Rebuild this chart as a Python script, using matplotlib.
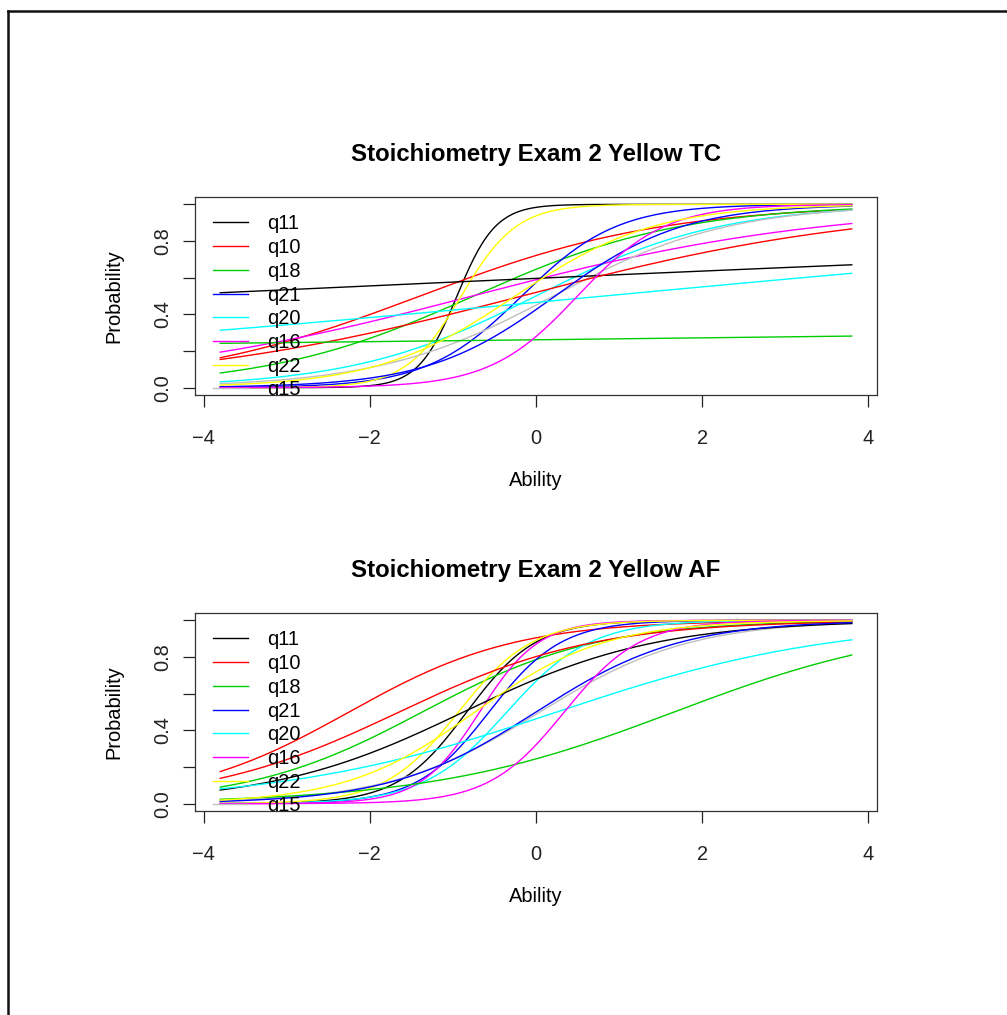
import numpy as np
import matplotlib
matplotlib.use("Agg")
import matplotlib.pyplot as plt
from matplotlib.lines import Line2D

plt.rcParams['font.family'] = ['Liberation Sans', 'DejaVu Sans']

# ---------------- data ----------------
titles = ["Stoichiometry Exam 2 Yellow TC", "Stoichiometry Exam 2 Yellow AF"]
legend_labels = ["q11", "q10", "q18", "q21", "q20", "q16", "q22", "q15"]
# R default palette (cycled over the items)
palette = ["#000000", "#FF0000", "#00CD00", "#0000FF",
           "#00FFFF", "#FF00FF", "#FFFF00", "#BEBEBE"]

# item parameters (slope a, intercept d; P = 1/(1+exp(-(a*theta+d))))
tc_slope = [4.3, 0.68, 0.80, 1.75, 0.90, 0.47, 3.0, 0.95,
            0.084, 0.47, 0.027, 1.30, 0.17, 1.90, 1.20]
tc_intercept = [4.09, 0.95, 0.60, 0.30, 0.00, 0.36, 2.70, -0.20,
                0.39, 0.08, -1.04, -0.30, -0.14, -0.95, 0.30]
af_slope = [2.4, 1.0, 0.95, 2.3, 2.0, 2.8, 2.25, 1.1,
            0.86, 0.85, 0.68, 1.15, 0.60, 2.2, 1.28]
af_intercept = [2.0, 2.25, 1.30, 1.30, 0.70, 1.90, 2.10, -0.05,
                0.75, 1.40, -1.13, 0.00, -0.15, -0.75, 0.94]

ability_min, ability_max = -3.8, 3.8
x_ticks = [-4, -2, 0, 2, 4]
x_ticklabels = ["\u22124", "\u22122", "0", "2", "4"]
y_ticks = [0.0, 0.2, 0.4, 0.6, 0.8, 1.0]
y_ticklabels = ["0.0", "", "0.4", "", "0.8", ""]

# ---------------- figure ----------------
W, H = 1007, 1015
fig = plt.figure(figsize=(W / 100, H / 100), dpi=100)

def ax_rect(left, top, right, bottom):
    return [left / W, 1 - bottom / H, (right - left) / W, (bottom - top) / H]

panels = [
    (ax_rect(195, 197, 877, 395), titles[0], tc_slope, tc_intercept),
    (ax_rect(195, 613, 877, 811), titles[1], af_slope, af_intercept),
]

theta = np.linspace(ability_min, ability_max, 300)
span = ability_max - ability_min
FS = 14.4

for rect, title, slopes, intercepts in panels:
    ax = fig.add_axes(rect)
    handles = []
    for i, (a, d) in enumerate(zip(slopes, intercepts)):
        p = 1.0 / (1.0 + np.exp(-(a * theta + d)))
        ln, = ax.plot(theta, p, color=palette[i % len(palette)], lw=1.0)
        handles.append(ln)
    ax.set_xlim(ability_min - 0.04 * span, ability_max + 0.04 * span)
    ax.set_ylim(-0.04, 1.04)
    ax.set_xticks(x_ticks)
    ax.set_xticklabels(x_ticklabels)
    ax.set_yticks(y_ticks)
    ax.set_yticklabels(y_ticklabels, rotation=90, va='center')
    ax.tick_params(axis='both', direction='out', length=8.4, width=0.9,
                   labelsize=FS, colors='#222222')
    ax.tick_params(axis='x', pad=16)
    ax.tick_params(axis='y', pad=8)
    for s in ax.spines.values():
        s.set_linewidth(0.9)
        s.set_color('#333333')
    ax.set_title(title, fontsize=17.3, fontweight='bold', pad=26)
    ax.set_xlabel("Ability", fontsize=FS)
    ax.xaxis.set_label_coords(0.5, -0.384)
    ax.set_ylabel("Probability", fontsize=FS)
    ax.yaxis.set_label_coords(-0.1056, 0.5)

    leg = ax.legend(handles[:len(legend_labels)], legend_labels,
                    loc='upper left', bbox_to_anchor=(0.0264, 0.912),
                    frameon=False, fontsize=FS, borderpad=0, borderaxespad=0,
                    handlelength=1.75, handletextpad=0.95, labelspacing=0.235)
    for art in leg.findobj():
        art.set_clip_box(ax.bbox)
        art.set_clip_on(True)

# outer frame (top and left edges)
x0 = 8 / W
y0 = 1 - 11 / H
fig.add_artist(Line2D([x0, 1.0], [y0, y0], transform=fig.transFigure,
                      color='#111111', lw=1.8))
fig.add_artist(Line2D([x0, x0], [0.0, y0], transform=fig.transFigure,
                      color='#111111', lw=1.8))

fig.savefig("out.png", dpi=100)
